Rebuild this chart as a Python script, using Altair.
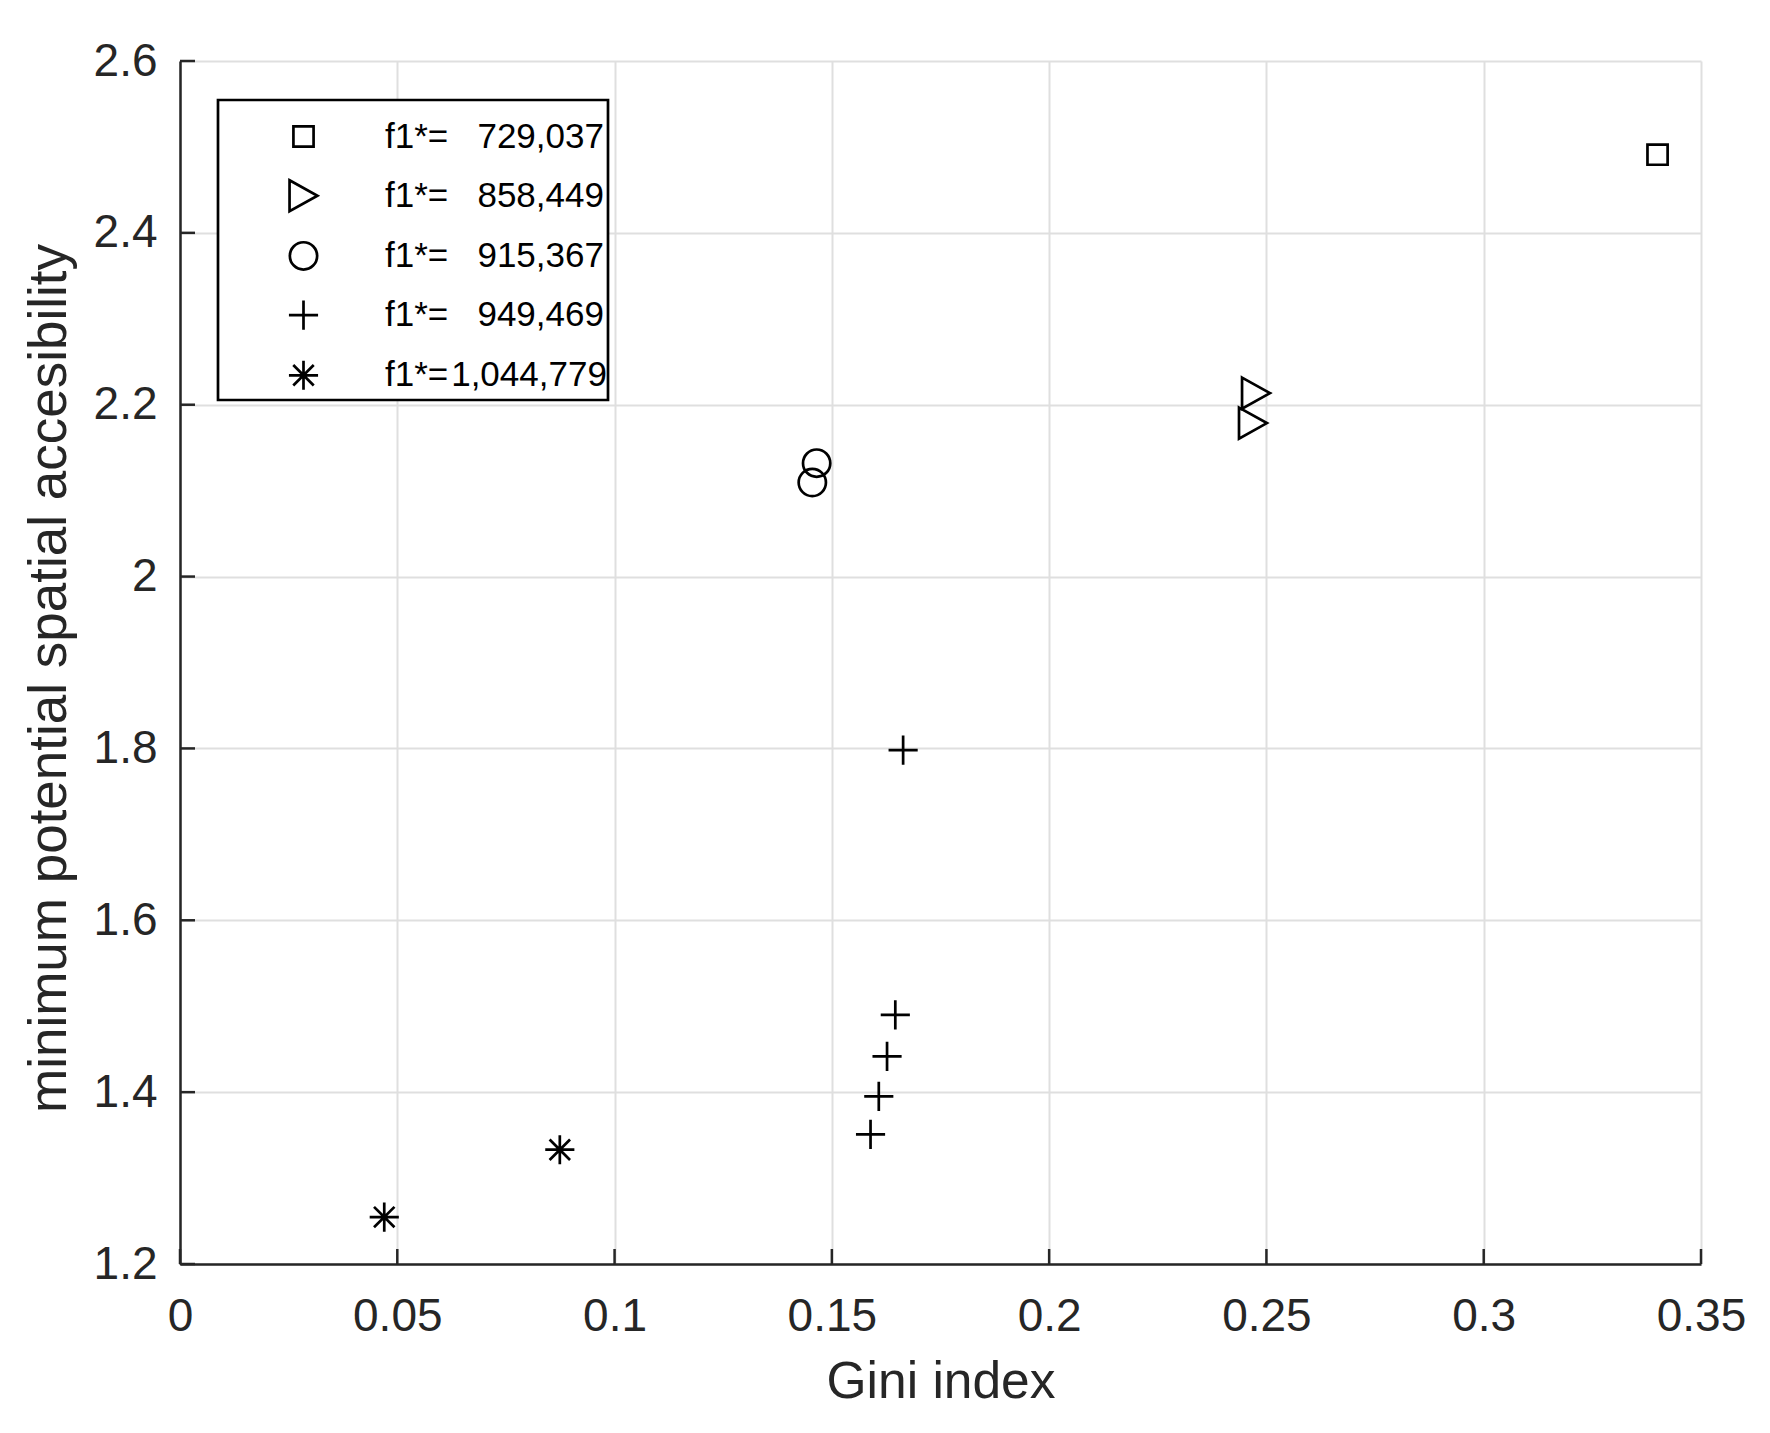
import pandas as pd
import altair as alt

# values
f1_values = ["729,037", "858,449", "915,367", "949,469", "1,044,779"]
gini_729 = [0.3400]
access_729 = [2.491]
gini_858 = [0.2476, 0.2469]
access_858 = [2.2135, 2.1786]
gini_915 = [0.1465, 0.1455]
access_915 = [2.132, 2.1095]
gini_949 = [0.1664, 0.1646, 0.1627, 0.1608, 0.1589]
access_949 = [1.798, 1.490, 1.4417, 1.3951, 1.3509]
gini_1044 = [0.0874, 0.0470]
access_1044 = [1.333, 1.2546]

x_ticks = [0, 0.05, 0.1, 0.15, 0.2, 0.25, 0.3, 0.35]
y_ticks = [1.2, 1.4, 1.6, 1.8, 2.0, 2.2, 2.4, 2.6]

nb = "\u00a0"
labels = [
    "f1*=" + nb * 3 + f1_values[0],
    "f1*=" + nb * 3 + f1_values[1],
    "f1*=" + nb * 3 + f1_values[2],
    "f1*=" + nb * 3 + f1_values[3],
    "f1*=" + "\u200a" + f1_values[4],
]

# marker outlines (matlab-like square, '>', 'o', '+', '*')
shapes = [
    "M-0.65,-0.65L0.65,-0.65L0.65,0.65L-0.65,0.65Z",
    "M-0.9,-1L0.9,0L-0.9,1Z",
    "M0.88,0A0.88,0.88 0 1,1 -0.88,0A0.88,0.88 0 1,1 0.88,0Z",
    "M-0.94,0L0.94,0M0,-0.94L0,0.94",
    "M-0.94,0L0.94,0M0,-0.94L0,0.94M-0.66,-0.66L0.66,0.66M-0.66,0.66L0.66,-0.66",
]

rows = []
for lab, gs, acs in zip(labels,
                        [gini_729, gini_858, gini_915, gini_949, gini_1044],
                        [access_729, access_858, access_915, access_949, access_1044]):
    for g, a in zip(gs, acs):
        rows.append({"series": lab, "gini": g, "access": a})
df = pd.DataFrame(rows)

W, H = 1521, 1203
FONT = "Liberation Sans"
INK = "#262626"

x_enc = alt.X(
    "gini:Q",
    scale=alt.Scale(domain=[0, 0.35], nice=False, zero=False),
    axis=alt.Axis(values=x_ticks, format="~g", title="Gini index",
                  labelPadding=30, titlePadding=17, labelFlush=False,
                  titleFontSize=51.5),
)
y_enc = alt.Y(
    "access:Q",
    scale=alt.Scale(domain=[1.2, 2.6], nice=False, zero=False),
    axis=alt.Axis(values=y_ticks, format="~g",
                  title="minimum potential spatial accesibility",
                  labelPadding=23, titlePadding=17, labelFlush=False,
                  titleFontSize=53, titleY=617),
)

points = alt.Chart(df).mark_point(
    filled=False, color="black", strokeWidth=2.7, opacity=1, size=961
).encode(
    x=x_enc,
    y=y_enc,
    shape=alt.Shape(
        "series:N",
        scale=alt.Scale(domain=labels, range=shapes),
        legend=alt.Legend(
            orient="none", legendX=106, legendY=58, title=None,
            labelFont=FONT, labelFontSize=35, labelColor="black",
            labelLimit=500, labelOffset=64, rowPadding=19.2, padding=0,
            symbolSize=961, symbolStrokeWidth=2.7, symbolStrokeColor="black",
        ),
    ),
)

xt = alt.Chart(pd.DataFrame({"gini": x_ticks})).mark_rule(
    color=INK, strokeWidth=2.5
).encode(x=x_enc, y=alt.value(H), y2=alt.value(H - 15))

yt = alt.Chart(pd.DataFrame({"access": y_ticks})).mark_rule(
    color=INK, strokeWidth=2.5
).encode(y=y_enc, x=alt.value(0), x2=alt.value(15))

box = alt.Chart(pd.DataFrame({"a": [0]})).mark_rect(
    fill="white", stroke="black", strokeWidth=2.7
).encode(x=alt.value(38), x2=alt.value(428), y=alt.value(39), y2=alt.value(339))

chart = (
    alt.layer(xt, yt, box, points)
    .properties(
        width=W, height=H,
        autosize=alt.AutoSizeParams(type="none"),
        padding={"left": 172, "top": 53, "right": 60, "bottom": 160},
    )
    .configure_view(strokeWidth=0)
    .configure_axis(
        grid=True, gridColor="#dfdfdf", gridWidth=2,
        domainColor=INK, domainWidth=2.5,
        ticks=False, tickSize=0,
        labelFont=FONT, labelFontSize=46, labelColor=INK,
        titleFont=FONT, titleFontWeight="normal", titleColor=INK,
    )
)

chart.save("out.html", embed_options={"renderer": "svg", "actions": False})
